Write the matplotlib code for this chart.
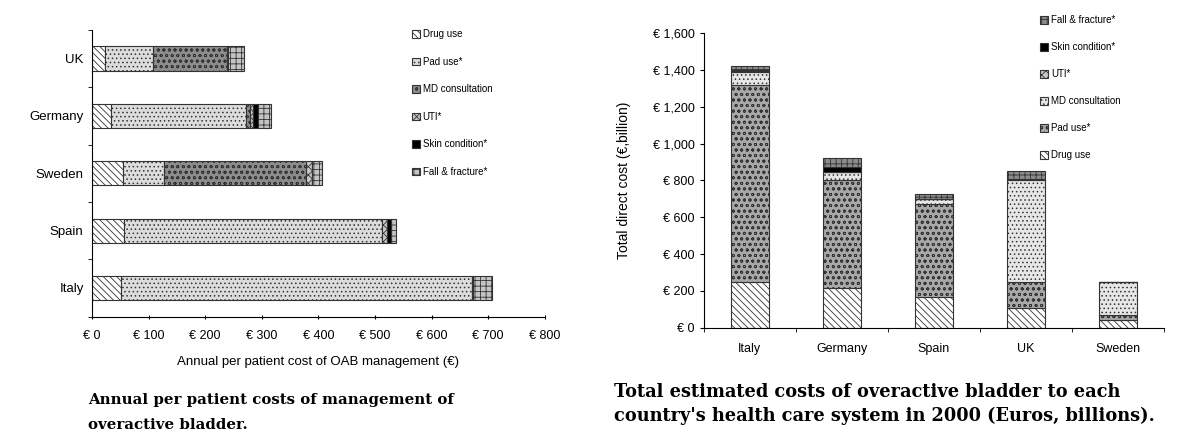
import matplotlib
matplotlib.use('Agg')
import matplotlib.pyplot as plt
import numpy as np

# Annual per patient cost (left) and total cost per country (right)

# Data ----------------------------------
segments = ['Drug use', 'Pad use*', 'MD consultation', 'UTI*', 'Skin condition*', 'Fall & fracture*']

countries_left = ['Italy', 'Spain', 'Sweden', 'Germany', 'UK']
drug_left = [51, 56, 55, 33, 23]
pad_left = [620, 456, 72, 240, 85]
md_left = [0, 0, 252, 6, 130]
uti_left = [2, 9, 9, 5, 3]
skin_left = [0, 8, 0, 10, 0]
fall_left = [33, 9, 19, 22, 28]

countries_right = ['Italy', 'Germany', 'Spain', 'UK', 'Sweden']
drug_right = [250, 214, 168, 105, 42]
pad_right = [1069, 588, 502, 145, 25]
md_right = [72, 45, 30, 552, 181]
uti_right = [5, 0, 0, 5, 2]
skin_right = [5, 27, 0, 0, 0]
fall_right = [23, 46, 25, 45, 0]

left_ticks = [0, 100, 200, 300, 400, 500, 600, 700, 800]
right_ticks = [0, 200, 400, 600, 800, 1000, 1200, 1400, 1600]

plt.rcParams['font.family'] = ['Liberation Sans', 'DejaVu Sans']
plt.rcParams['hatch.linewidth'] = 0.6

# (facecolor, hatch) for each segment
styles_left = [('white', '\\\\\\\\\\'), ('#dcdcdc', '....'), ('#8c8c8c', 'ooo'),
               ('#c8c8c8', 'xxxx'), ('black', ''), ('#c4c4c4', '+++')]
styles_right = [('white', '\\\\\\\\\\'), ('#a8a8a8', 'ooo'), ('#e6e6e6', '....'),
                ('#c8c8c8', 'xxxx'), ('black', ''), ('#8c8c8c', '+++')]

fig = plt.figure(figsize=(11.79, 4.32), dpi=100)

# Left: horizontal stacked bars ----------------------------------
ax1 = fig.add_axes([0.078, 0.267, 0.384, 0.664])
y = np.arange(len(countries_left))
left = np.zeros(len(countries_left))
handles1 = []
for vals, (fc, h), name in zip([drug_left, pad_left, md_left, uti_left, skin_left, fall_left],
                               styles_left, segments):
    b = ax1.barh(y, vals, left=left, height=0.42, color=fc, hatch=h,
                 edgecolor='#333333', linewidth=0.8, label=name)
    handles1.append(b)
    left += np.array(vals)

ax1.set_xlim(0, 800)
ax1.set_ylim(-0.5, len(countries_left) - 0.5)
ax1.set_xticks(left_ticks)
ax1.set_xticklabels([f'€ {v:,}' for v in left_ticks], fontsize=9)
ax1.set_yticks(y)
ax1.set_yticklabels(countries_left, fontsize=9.5)
ax1.set_yticks(np.arange(-0.5, len(countries_left)), minor=True)
ax1.tick_params(axis='y', which='major', length=0, pad=6)
ax1.tick_params(axis='y', which='minor', length=3, direction='out')
ax1.tick_params(axis='x', length=3, direction='inout', pad=8)
ax1.set_xlabel('Annual per patient cost of OAB management (€)', fontsize=9.5, labelpad=10)
for s in ['top', 'right']:
    ax1.spines[s].set_visible(False)
ax1.legend(handles=handles1, loc='upper left', bbox_to_anchor=(0.342, 0.952),
           bbox_transform=fig.transFigure, frameon=False, fontsize=7,
           handlelength=0.8, handleheight=0.8, handletextpad=0.3, labelspacing=1.8)

# Right: vertical stacked bars ----------------------------------
ax2 = fig.add_axes([0.597, 0.2414, 0.39, 0.6816])
x = np.arange(len(countries_right))
bottom = np.zeros(len(countries_right))
handles2 = []
for vals, (fc, h), name in zip([drug_right, pad_right, md_right, uti_right, skin_right, fall_right],
                               styles_right, segments):
    b = ax2.bar(x, vals, bottom=bottom, width=0.41, color=fc, hatch=h,
                edgecolor='#333333', linewidth=0.8, label=name)
    handles2.append(b)
    bottom += np.array(vals)

ax2.set_ylim(0, 1600)
ax2.set_xlim(-0.5, len(countries_right) - 0.5)
ax2.set_yticks(right_ticks)
ax2.set_yticklabels([f'€ {v:,}' for v in right_ticks], fontsize=9)
ax2.set_xticks(x)
ax2.set_xticklabels(countries_right, fontsize=9)
ax2.set_xticks(np.arange(-0.5, len(countries_right)), minor=True)
ax2.tick_params(axis='x', which='major', length=0, pad=11)
ax2.tick_params(axis='x', which='minor', length=3, direction='out')
ax2.tick_params(axis='y', length=3, direction='out')
ax2.set_ylabel('Total direct cost (€,billion)', fontsize=10, labelpad=16)
for s in ['top', 'right']:
    ax2.spines[s].set_visible(False)
ax2.legend(handles=handles2[::-1], loc='upper left', bbox_to_anchor=(0.875, 0.985),
           bbox_transform=fig.transFigure, frameon=False, fontsize=7,
           handlelength=0.8, handleheight=0.8, handletextpad=0.3, labelspacing=1.75)

# Captions ----------------------------------
fig.text(0.075, 0.046, 'Annual per patient costs of management of\noveractive bladder.',
         family='DejaVu Serif', fontweight='bold', fontsize=10.8, ha='left', va='center',
         linespacing=2.0)
fig.text(0.521, 0.064, "Total estimated costs of overactive bladder to each\n"
         "country's health care system in 2000 (Euros, billions).",
         family='DejaVu Serif', fontweight='bold', fontsize=12.8, ha='left', va='center',
         linespacing=1.4)

fig.savefig('out.png', dpi=100)
